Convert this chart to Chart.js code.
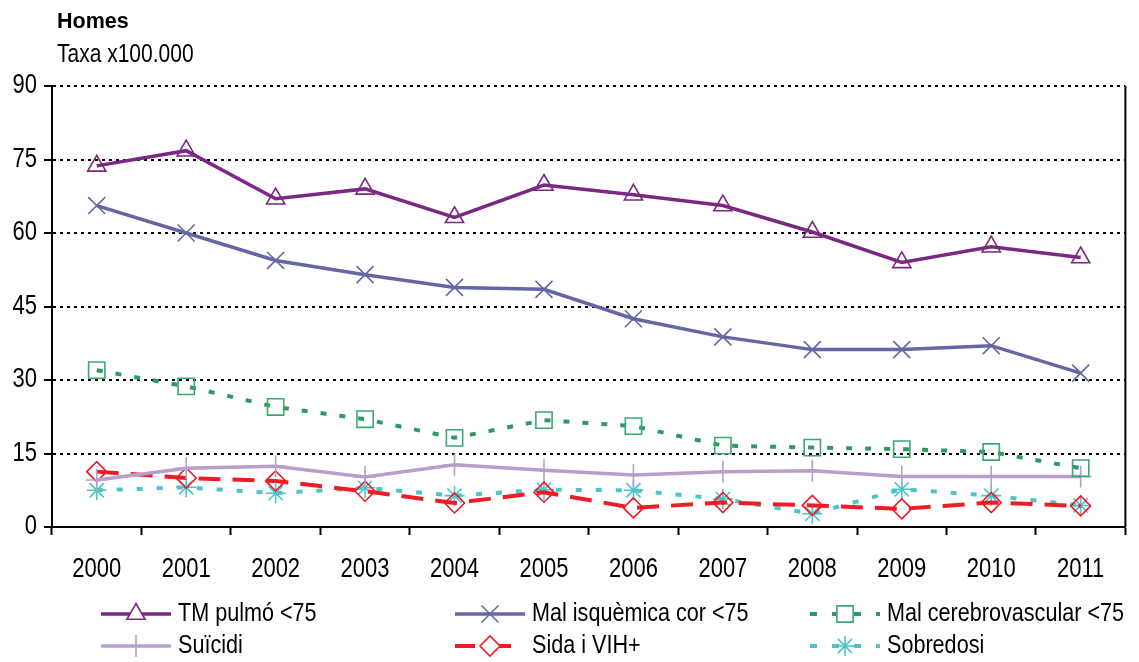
<!DOCTYPE html>
<html>
<head>
<meta charset="utf-8">
<script src="https://cdn.jsdelivr.net/npm/chart.js@4.4.1/dist/chart.umd.min.js"></script>
<style>
  html, body { margin: 0; padding: 0; background: #ffffff; }
  #wrap { width: 1139px; height: 662px; position: relative; }
</style>
</head>
<body>
<div id="wrap"><canvas id="c" width="1139" height="662"></canvas></div>
<script>
// Mortality rates per 100,000 (men), 2000-2011
const years = ['2000', '2001', '2002', '2003', '2004', '2005', '2006', '2007', '2008', '2009', '2010', '2011'];
const tmPulmo      = [73.7, 76.8, 67.0, 69.0, 63.2, 69.8, 67.8, 65.6, 60.2, 54.0, 57.2, 55.0];
const malIsquemica = [65.6, 60.0, 54.4, 51.5, 48.9, 48.5, 42.5, 38.8, 36.2, 36.2, 37.0, 31.4];
const malCerebro   = [32.0, 28.7, 24.5, 22.0, 18.2, 21.8, 20.6, 16.6, 16.2, 15.9, 15.3, 12.0];
const suicidi      = [9.6, 12.0, 12.4, 10.2, 12.7, 11.6, 10.6, 11.3, 11.5, 10.3, 10.3, 10.3];
const sida         = [11.3, 10.0, 9.4, 7.3, 4.9, 7.1, 3.9, 5.0, 4.4, 3.7, 5.0, 4.3];
const sobredosi    = [7.5, 8.1, 6.9, 8.0, 6.4, 7.6, 7.5, 5.7, 2.7, 7.7, 6.4, 4.4];
const yTicks = [0, 15, 30, 45, 60, 75, 90];

const FAMILY = '"Liberation Sans", Arial, sans-serif';
const LABEL_SIZE = 22;
const LEGEND_SIZE = 21.6;
const TALL = 1.22; // vertical stretch giving the labels a condensed look

function series(label, data, color, style, radius, dash, width, order) {
  return {
    label, data,
    borderColor: color,
    backgroundColor: 'rgba(0,0,0,0)',
    borderWidth: width,
    borderDash: dash,
    pointStyle: style,
    pointRadius: radius,
    pointHoverRadius: radius,
    pointBorderColor: color,
    pointBackgroundColor: 'rgba(0,0,0,0)',
    pointBorderWidth: 1.6,
    tension: 0,
    fill: false,
    order
  };
}

const datasets = [
  series('TM pulmó <75', tmPulmo, '#7b2882', 'triangle', 10.5, [], 3.5, 1),
  series('Mal isquèmica cor <75', malIsquemica, '#6467a3', 'crossRot', 12, [], 3.5, 2),
  series('Mal cerebrovascular <75', malCerebro, '#2e9a62', 'rect', 11.5, [6, 13], 4, 3),
  series('Suïcidi', suicidi, '#b89ecb', 'cross', 11, [], 3.5, 4),
  series('Sida i VIH+', sida, '#ee1c25', 'rectRot', 10, [22, 12], 4, 5),
  series('Sobredosi', sobredosi, '#4cc4c8', 'star', 10, [6, 14], 4, 6)
];
datasets[2].pointBorderColor = '#3aa873';

// Legend line patterns
const legendDash = [[], [], [7, 15], [], [20, 16], [7, 15]];

function tallText(ctx, text, x, y, k) {
  ctx.save();
  ctx.translate(x, y);
  ctx.scale(1, k);
  ctx.fillText(text, 0, 0);
  ctx.restore();
}

// Tick labels drawn by the scales, stretched vertically around their anchor
function stretchLabels(scale, k) {
  if (scale._tall) return;
  scale._tall = true;
  const base = scale.drawLabels.bind(scale);
  scale.drawLabels = function (area) {
    const ctx = this.ctx;
    const fill = CanvasRenderingContext2D.prototype.fillText;
    ctx.fillText = function (t, x, y, w) {
      this.save();
      this.translate(x, y);
      this.scale(1, k);
      if (w === undefined) fill.call(this, t, 0, 0); else fill.call(this, t, 0, 0, w);
      this.restore();
    };
    try { base(area); } finally { delete ctx.fillText; }
  };
}

// Headings, right frame edge and a three-column legend
const decorations = {
  id: 'decorations',
  afterLayout(chart) {
    stretchLabels(chart.scales.x, TALL);
    stretchLabels(chart.scales.y, TALL);
  },
  afterDraw(chart) {
    const ctx = chart.ctx;
    const area = chart.chartArea;
    ctx.save();
    ctx.fillStyle = '#000';
    ctx.textAlign = 'left';
    ctx.textBaseline = 'middle';
    ctx.font = 'bold 21.5px ' + FAMILY;
    ctx.fillText('Homes', 57, 22);
    ctx.font = '21px ' + FAMILY;
    tallText(ctx, 'Taxa x100.000', 57, 55, TALL);

    ctx.strokeStyle = '#000';
    ctx.lineWidth = 2;
    ctx.setLineDash([]);
    ctx.beginPath();
    ctx.moveTo(area.right, area.top);
    ctx.lineTo(area.right, area.bottom);
    ctx.stroke();

    const cols = [101, 455, 810];
    const rows = [614, 646];
    chart.data.datasets.forEach((ds, i) => {
      const x0 = cols[i % 3];
      const y = rows[Math.floor(i / 3)];
      const x1 = x0 + 70;
      ctx.strokeStyle = ds.borderColor;
      ctx.lineWidth = ds.borderWidth;
      ctx.setLineDash(legendDash[i]);
      ctx.beginPath();
      ctx.moveTo(x0, y);
      ctx.lineTo(x1, y);
      ctx.stroke();
      ctx.setLineDash([]);
      const cx = (x0 + x1) / 2;
      ctx.strokeStyle = ds.pointBorderColor;
      ctx.fillStyle = '#fff';
      ctx.lineWidth = ds.pointBorderWidth;
      Chart.helpers.drawPoint(ctx, { pointStyle: ds.pointStyle, radius: ds.pointRadius, rotation: 0, borderWidth: ds.pointBorderWidth }, cx, y);
      ctx.fillStyle = '#000';
      ctx.font = LEGEND_SIZE + 'px ' + FAMILY;
      ctx.textAlign = 'left';
      ctx.textBaseline = 'middle';
      tallText(ctx, ds.label, x1 + 7, y, TALL);
    });
    ctx.restore();
  }
};

new Chart(document.getElementById('c'), {
  type: 'line',
  data: { labels: years, datasets },
  options: {
    responsive: false,
    animation: false,
    devicePixelRatio: 1,
    layout: { padding: { left: 0, right: 12, top: 86, bottom: 0 } },
    plugins: { legend: { display: false }, tooltip: { enabled: false } },
    scales: {
      x: {
        type: 'category',
        offset: true,
        afterFit(scale) { scale.height = 135; },
        grid: {
          offset: true,
          drawOnChartArea: false,
          drawTicks: true,
          tickLength: 8,
          tickColor: '#000',
          tickWidth: 2
        },
        border: { display: true, color: '#000', width: 2 },
        ticks: { color: '#000', font: { family: FAMILY, size: LABEL_SIZE }, padding: 21, maxRotation: 0, autoSkip: false }
      },
      y: {
        min: 0,
        max: 90,
        afterFit(scale) { scale.width = 52; },
        afterBuildTicks(scale) { scale.ticks = yTicks.map(v => ({ value: v })); },
        grid: {
          color: ctx => (ctx.tick && ctx.tick.value === 0 ? 'rgba(0,0,0,0)' : '#000'),
          lineWidth: 2,
          drawTicks: true,
          tickLength: 8,
          tickColor: '#000',
          tickWidth: 2,
          tickBorderDash: []
        },
        border: { display: true, color: '#000', width: 2, dash: [3, 4] },
        ticks: { color: '#000', font: { family: FAMILY, size: LABEL_SIZE }, padding: 7 }
      }
    }
  },
  plugins: [decorations]
});
</script>
</body>
</html>
